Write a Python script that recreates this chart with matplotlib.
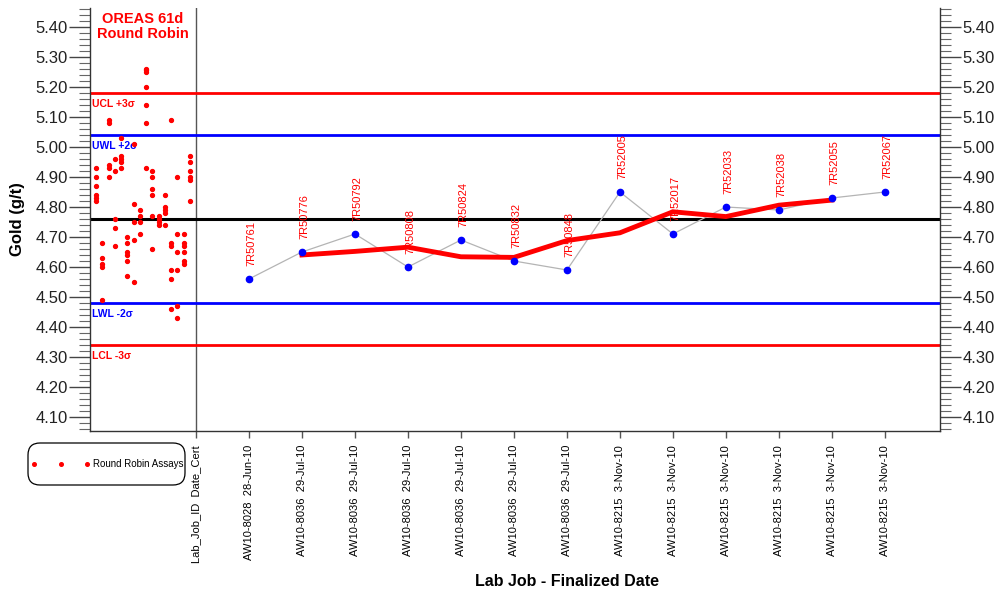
import matplotlib
matplotlib.use('Agg')
import matplotlib.pyplot as plt
from matplotlib.lines import Line2D
from matplotlib.patches import FancyBboxPatch
from matplotlib.ticker import MultipleLocator, FormatStrFormatter

plt.rcParams['font.family'] = ['Liberation Sans', 'DejaVu Sans']

# standard certificate values
cert_mean = 4.76
cert_sd = 0.14

# lab results, one per job
job_ids = ['AW10-8028'] + ['AW10-8036'] * 6 + ['AW10-8215'] * 6
job_dates = ['28-Jun-10'] + ['29-Jul-10'] * 6 + ['3-Nov-10'] * 6
sample_ids = ['7R50761', '7R50776', '7R50792', '7R50808', '7R50824', '7R50832',
              '7R50848', '7R52005', '7R52017', '7R52033', '7R52038', '7R52055',
              '7R52067']
gold = [4.56, 4.65, 4.71, 4.60, 4.69, 4.62, 4.59, 4.85, 4.71, 4.80, 4.79, 4.83, 4.85]

# running trend, drawn from job 2 to job 12
trend = [4.640, 4.652, 4.666, 4.634, 4.632, 4.688, 4.714, 4.784, 4.768, 4.806, 4.823]

# round robin assays, one list per lab
rr_assays = [
    [4.93, 4.90, 4.87, 4.84, 4.83, 4.82],
    [4.68, 4.63, 4.61, 4.60, 4.49],
    [5.09, 5.08, 4.94, 4.93, 4.90],
    [4.96, 4.92, 4.76, 4.73, 4.67],
    [5.03, 4.97, 4.96, 4.95, 4.93],
    [4.70, 4.68, 4.65, 4.64, 4.62, 4.57],
    [5.01, 4.81, 4.75, 4.69, 4.55],
    [4.79, 4.77, 4.75, 4.71],
    [5.26, 5.255, 5.25, 5.20, 5.14, 5.08, 4.93],
    [4.92, 4.90, 4.86, 4.84, 4.77, 4.66],
    [4.77, 4.76, 4.75, 4.74],
    [4.84, 4.80, 4.79, 4.78, 4.74],
    [5.09, 4.68, 4.67, 4.59, 4.56, 4.46],
    [4.90, 4.71, 4.65, 4.59, 4.47, 4.43],
    [4.71, 4.68, 4.67, 4.65, 4.62, 4.61],
    [4.97, 4.95, 4.92, 4.90, 4.89, 4.82],
]

W, H = 1000, 595
fig = plt.figure(figsize=(W / 100, H / 100), dpi=100)
ax = fig.add_axes([0.09, 1 - 431 / H, 0.85, 423 / H])
ax.set_xlim(-2, 14.04)
ax.set_ylim(4.0533, 5.4633)

# control limits
limits = [
    (cert_mean + 3 * cert_sd, 'red', 'UCL +3σ'),
    (cert_mean + 2 * cert_sd, 'blue', 'UWL +2σ'),
    (cert_mean - 2 * cert_sd, 'blue', 'LWL -2σ'),
    (cert_mean - 3 * cert_sd, 'red', 'LCL -3σ'),
]
for val, col, lab in limits:
    ax.axhline(val, color=col, lw=2, zorder=2)
    ax.annotate(lab, xy=(0, val), xycoords=('axes fraction', 'data'),
                xytext=(1.5, -4), textcoords='offset points', ha='left', va='top',
                fontsize=7.5, fontweight='bold', color=col)
ax.axhline(cert_mean, color='black', lw=2.2, zorder=2)

# divider between round robin and lab jobs
ax.axvline(0, color='#555555', lw=1, zorder=1)

# round robin dots spread over the left panel
n_labs = len(rr_assays)
for k, vals in enumerate(rr_assays, start=1):
    xk = -2 + k * 2 / (n_labs + 1)
    ax.plot([xk] * len(vals), vals, ls='none', marker='o', ms=2.8,
            color='red', zorder=3)

pos = list(range(1, len(gold) + 1))
ax.plot(pos, gold, color='#b4b4b4', lw=0.9, zorder=3)
ax.plot(pos[1:12], trend, color='red', lw=3.5, zorder=4)
ax.plot(pos, gold, ls='none', marker='o', ms=4.5, color='blue', zorder=5)
for p, v, s in zip(pos, gold, sample_ids):
    ax.annotate(s, (p, v), xytext=(2, 9), textcoords='offset points',
                rotation=90, ha='center', va='bottom', fontsize=8, color='red')

ax.text(-1, 5.45, 'OREAS 61d\nRound Robin', ha='center', va='top',
        fontsize=10.5, fontweight='bold', color='red', linespacing=1.1)

# axes and ticks
ax.yaxis.set_major_locator(MultipleLocator(0.1))
ax.yaxis.set_minor_locator(MultipleLocator(0.02))
ax.yaxis.set_major_formatter(FormatStrFormatter('%.2f'))
ax.tick_params(axis='y', which='major', length=15, width=1, color='#444444',
               labelsize=12, labelcolor='#222222', pad=1, left=True, right=True,
               labelright=True)
ax.tick_params(axis='y', which='minor', length=8, width=0.8, color='#666666',
               left=True, right=True)

xlabels = ['Lab_Job_ID  Date_Cert'] + [f'{j}  {d}' for j, d in zip(job_ids, job_dates)]
ax.set_xticks(range(len(xlabels)))
ax.set_xticklabels(xlabels, rotation=90)
ax.tick_params(axis='x', length=5, width=1, color='#555555', labelsize=8, pad=5)

ax.spines['top'].set_visible(False)
for side in ('left', 'right', 'bottom'):
    ax.spines[side].set_color('#333333')
    ax.spines[side].set_linewidth(1)

fig.text(0.018, 1 - 219 / H, 'Gold (g/t)', rotation=90, ha='center', va='center',
         fontsize=12, fontweight='bold')
fig.text(0.567, 1 - 582 / H, 'Lab Job - Finalized Date', ha='center', va='center',
         fontsize=11.5, fontweight='bold')

# legend box drawn by hand in figure coordinates
box = FancyBboxPatch((28 / W, 1 - 485 / H), 157 / W, 42 / H,
                     boxstyle='round,pad=0,rounding_size=0.012',
                     mutation_aspect=W / H, transform=fig.transFigure,
                     facecolor='white', edgecolor='black', lw=0.9)
fig.add_artist(box)
leg_y = 1 - 464 / H
fig.add_artist(Line2D([34 / W, 61 / W, 87 / W], [leg_y] * 3, transform=fig.transFigure,
                      ls='none', marker='o', ms=2.6, color='red'))
fig.text(93 / W, leg_y, 'Round Robin Assays', ha='left', va='center', fontsize=7)

fig.savefig('out.png', dpi=100, facecolor='white')
